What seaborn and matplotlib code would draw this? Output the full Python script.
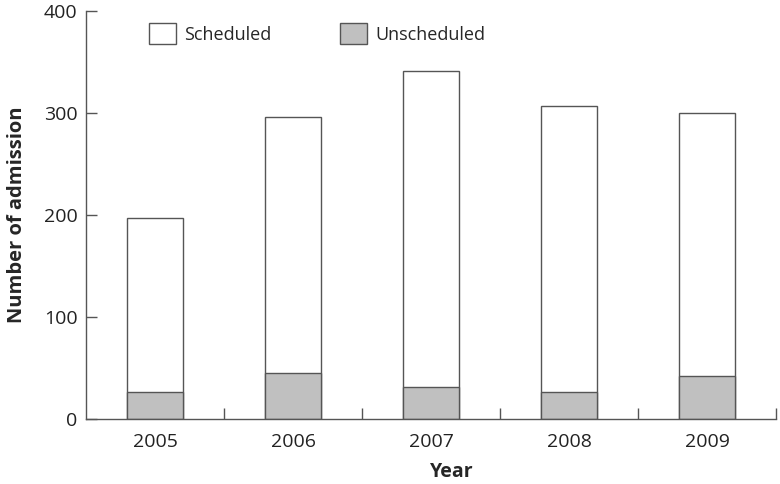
import numpy as np
import pandas as pd
import seaborn as sns
import matplotlib.pyplot as plt
from matplotlib.patches import Patch
from matplotlib.ticker import FixedLocator

years = ['2005', '2006', '2007', '2008', '2009']
scheduled = [171, 251, 310, 281, 258]
unscheduled = [26, 45, 31, 26, 42]

df = pd.DataFrame({'Year': years, 'Scheduled': scheduled, 'Unscheduled': unscheduled})
df['Total'] = df['Scheduled'] + df['Unscheduled']

sns.set_style('white')
plt.rcParams['font.family'] = ['Open Sans', 'DejaVu Sans']

EDGE = '#555555'
GREY = '#c0c0c0'

fig = plt.figure(figsize=(7.8, 4.84), dpi=100)
ax = fig.add_axes([86 / 780, 65 / 484, 690 / 780, 408 / 484])

# total bar (white) with unscheduled part drawn over it
sns.barplot(data=df, x='Year', y='Total', color='white', edgecolor=EDGE,
            linewidth=1.0, width=0.4, saturation=1, ax=ax)
sns.barplot(data=df, x='Year', y='Unscheduled', color=GREY, edgecolor=EDGE,
            linewidth=1.0, width=0.4, saturation=1, ax=ax)

ax.set_xlim(-0.5, 4.5)
ax.set_ylim(0, 400)
ax.set_yticks([0, 100, 200, 300, 400])
ax.xaxis.set_minor_locator(FixedLocator([0.5, 1.5, 2.5, 3.5, 4.5]))
ax.tick_params(axis='x', which='major', length=0, labelsize=14, pad=10, colors='#222222')
ax.tick_params(axis='x', which='minor', direction='in', length=8, width=1, color=EDGE)
ax.tick_params(axis='y', direction='in', length=8, width=1, color=EDGE,
               labelsize=14, pad=6, labelcolor='#222222')
ax.tick_params(bottom=True, left=True, which='both')

sns.despine(ax=ax)
for s in ['left', 'bottom']:
    ax.spines[s].set_color(EDGE)
    ax.spines[s].set_linewidth(1)

ax.set_xlabel('Year', fontsize=14, fontweight='bold')
ax.xaxis.set_label_coords(0.53, -0.105)
ax.set_ylabel('Number of admission', fontsize=14.5, fontweight='bold', labelpad=12)

handles = [Patch(facecolor='white', edgecolor=EDGE, linewidth=1, label='Scheduled'),
           Patch(facecolor=GREY, edgecolor=EDGE, linewidth=1, label='Unscheduled')]
ax.legend(handles=handles, ncol=2, frameon=False, loc='upper left',
          bbox_to_anchor=(0.068, 1.01), fontsize=13, handlelength=1.5,
          handleheight=1.4, columnspacing=3.8, handletextpad=0.45)

fig.savefig('out.png', dpi=100)
